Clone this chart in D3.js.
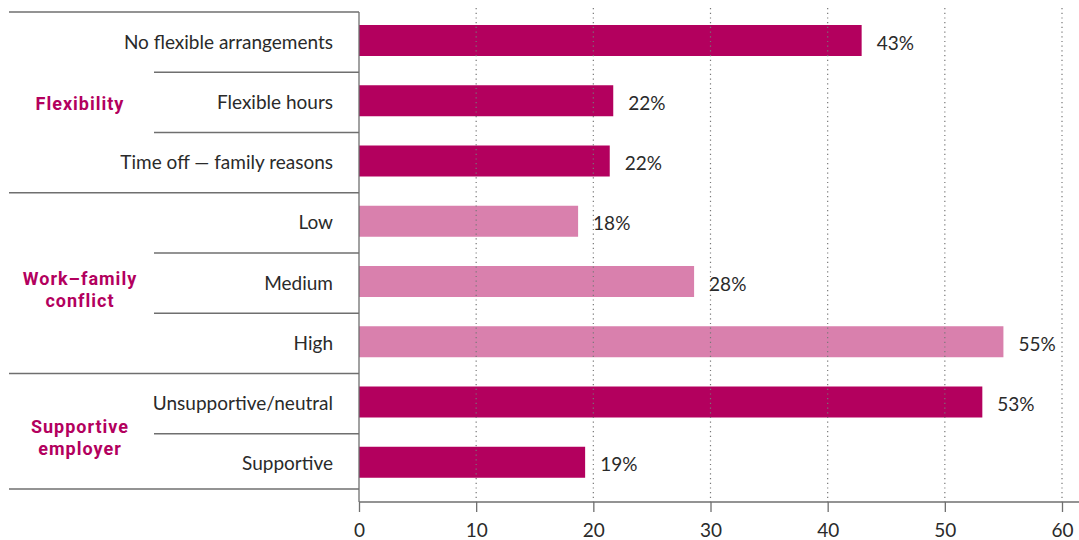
<!DOCTYPE html>
<html><head><meta charset="utf-8">
<script src="https://cdn.jsdelivr.net/npm/d3@7"></script>
<style>
body{margin:0;background:#fff;}
text{font-family:Lato,"Open Sans","DejaVu Sans",sans-serif;}
</style></head>
<body><svg id="c" width="1079" height="540"></svg>
<script>
const categories = ["No flexible arrangements","Flexible hours","Time off \u2014 family reasons","Low","Medium","High","Unsupportive/neutral","Supportive"];
const values = [42.9, 21.7, 21.4, 18.7, 28.6, 55.0, 53.2, 19.3];
const valueLabels = ["43%","22%","22%","18%","28%","55%","53%","19%"];
const seriesGroup = ["Flexibility","Flexibility","Flexibility","Work\u2013family conflict","Work\u2013family conflict","Work\u2013family conflict","Supportive employer","Supportive employer"];
const groups = [
  {name:"Flexibility", lines:["Flexibility"], first:0, last:2},
  {name:"Work\u2013family conflict", lines:["Work\u2013family","conflict"], first:3, last:5},
  {name:"Supportive employer", lines:["Supportive","employer"], first:6, last:7}
];
const lightGroup = "Work\u2013family conflict";
const ticks = [0,10,20,30,40,50,60];

const svg = d3.select("#c");
const x = d3.scaleLinear().domain([0,60]).range([359,1062]);
const y = d3.scaleBand().domain(categories).range([12,494]).padding(0);
const barH = 31, barOff = 13;
const dark = "#b3005e", light = "#d980ad", lineC = "#6f6f6f", txt = "#2a2a2a";
const fs = 19;

// bars
svg.selectAll("rect.bar").data(categories).join("rect")
  .attr("x", x(0)).attr("y", d => y(d) + barOff)
  .attr("width", (d,i) => x(values[i]) - x(0)).attr("height", barH)
  .attr("fill", (d,i) => seriesGroup[i] === lightGroup ? light : dark);

// grid (on top of bars)
svg.selectAll("line.grid").data(ticks.slice(1)).join("line")
  .attr("x1", d => x(d)).attr("x2", d => x(d))
  .attr("y1", 8).attr("y2", 502)
  .attr("stroke", "#777").attr("stroke-width", 1.2).attr("stroke-dasharray", "1.2,3.5");

// value labels
svg.selectAll("text.val").data(categories).join("text")
  .attr("x", (d,i) => x(values[i]) + 15)
  .attr("y", d => y(d) + barOff + barH/2 + 9)
  .attr("font-size", fs).attr("fill", txt)
  .text((d,i) => valueLabels[i]);

// category labels
svg.selectAll("text.cat").data(categories).join("text")
  .attr("x", 333).attr("y", d => y(d) + barOff + barH/2 + 8)
  .attr("text-anchor", "end").attr("font-size", fs).attr("fill", txt)
  .text(d => d);

// separators within groups
const inner = [];
groups.forEach(g => { for (let i = g.first + 1; i <= g.last; i++) inner.push(categories[i]); });
svg.selectAll("line.inner").data(inner).join("line")
  .attr("x1", 154).attr("x2", 359).attr("y1", d => y(d)).attr("y2", d => y(d))
  .attr("stroke", lineC).attr("stroke-width", 1.3);
// group separators
const gy = groups.map(g => y(categories[g.first]));
gy.push(489);
svg.selectAll("line.grp").data(gy).join("line")
  .attr("x1", 9).attr("x2", 359).attr("y1", d => d).attr("y2", d => d)
  .attr("stroke", lineC).attr("stroke-width", 1.3);

// group labels
groups.forEach((g, gi) => {
  const top = y(categories[g.first]);
  const bot = gi === groups.length - 1 ? 489 : y(categories[g.last]) + y.bandwidth();
  const cy = (top + bot) / 2;
  const n = g.lines.length;
  g.lines.forEach((ln, k) => {
    const c = n === 1 ? cy + 1 : cy - 4.5 + k * 22;
    svg.append("text").attr("x", 80).attr("y", c + 6.5)
      .attr("text-anchor", "middle").attr("font-size", 18).attr("font-weight", 700)
      .style("font-family", "Roboto,'Open Sans',sans-serif")
      .style("letter-spacing", "1px")
      .attr("fill", dark).text(ln);
  });
});

// axes
const xAxis = d3.axisBottom(x).tickValues(ticks).tickSize(10).tickPadding(12);
const ga = svg.append("g").attr("transform", "translate(0,502)").call(xAxis);
ga.select(".domain").attr("d", "M359,0H1079").attr("stroke", lineC).attr("stroke-width", 1.3);
ga.selectAll(".tick line").attr("stroke", lineC).attr("stroke-width", 1.3);
ga.selectAll(".tick text").attr("font-size", fs).attr("fill", txt)
  .style("font-family", "Lato,'Open Sans',sans-serif");
svg.append("line").attr("x1", 359).attr("x2", 359).attr("y1", 12).attr("y2", 502)
  .attr("stroke", lineC).attr("stroke-width", 1.3);
</script></body></html>
